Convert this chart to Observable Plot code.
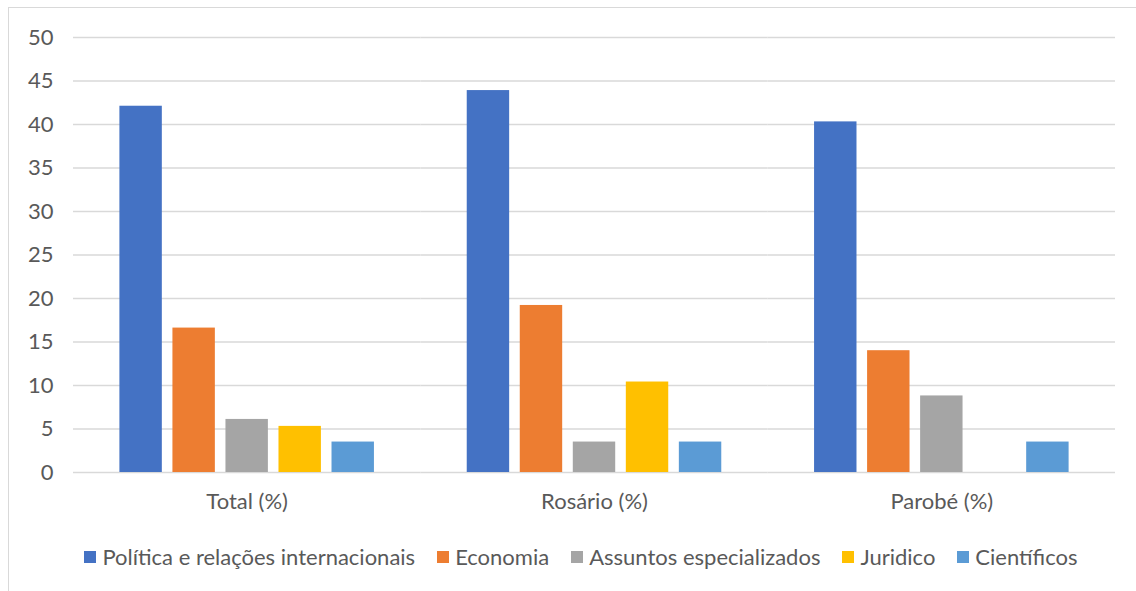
<!DOCTYPE html>
<html>
<head>
<meta charset="utf-8">
<script src="https://cdn.jsdelivr.net/npm/d3@7"></script>
<script src="https://cdn.jsdelivr.net/npm/@observablehq/plot@0.6"></script>
<style>
  html, body { margin: 0; padding: 0; background: #fff; }
  body { width: 1136px; height: 591px; position: relative; overflow: hidden; font-family: Lato, "Open Sans", sans-serif; }
  #frame { position: absolute; left: 8px; top: 7px; width: 1146px; height: 610px; border: 1.5px solid #d9d9d9; box-sizing: border-box; }
  #chart { position: absolute; left: 0; top: 0; }
  #legend { position: absolute; left: 8px; top: 545px; width: 1146px; display: flex; justify-content: center; align-items: center; color: #595959; font-size: 22px; line-height: 24px; }
  .item { display: flex; align-items: center; margin-right: 22px; }
  .item:last-child { margin-right: 0; }
  .sw { width: 12px; height: 12px; margin-right: 6px; display: inline-block; }
</style>
</head>
<body>
<div id="frame"></div>
<div id="chart"></div>
<div id="legend"></div>
<script>
const groups = ["Total (%)", "Rosário (%)", "Parobé (%)"];
const categories = ["Política e relações internacionais", "Economia", "Assuntos especializados", "Juridico", "Científicos"];
const politica = [42.1, 43.9, 40.3];
const economia = [16.6, 19.2, 14.0];
const assuntos = [6.1, 3.5, 8.8];
const juridico = [5.3, 10.4, 0];
const cientificos = [3.5, 3.5, 3.5];
const colors = ["#4472C4", "#ED7D31", "#A5A5A5", "#FFC000", "#5B9BD5"];
const yTicks = [0, 5, 10, 15, 20, 25, 30, 35, 40, 45, 50];

const series = [politica, economia, assuntos, juridico, cientificos];
const table = [];
groups.forEach((g, gi) => {
  categories.forEach((c, ci) => {
    table.push({group: g, cat: c, value: series[ci][gi]});
  });
});

const chart = Plot.plot({
  width: 1136,
  height: 520,
  marginLeft: 73,
  marginRight: 21,
  marginTop: 37,
  marginBottom: 48,
  style: {fontFamily: "Lato, 'Open Sans', sans-serif", fontSize: "22px", color: "#595959", background: "transparent"},
  fx: {domain: groups, padding: 0, round: false, label: null},
  x: {domain: categories, paddingInner: 0.2, paddingOuter: 0.875, round: false, axis: null},
  y: {domain: [0, 50]},
  color: {domain: categories, range: colors},
  marks: [
    Plot.ruleY(yTicks, {stroke: "#d9d9d9", strokeWidth: 1.5}),
    Plot.barY(table, {fx: "group", x: "cat", y: "value", fill: "cat"}),
    Plot.axisY({ticks: yTicks, tickSize: 0, tickPadding: 20, fontSize: 22, label: null, fill: "#595959"}),
    Plot.axisFx({anchor: "bottom", tickSize: 0, tickPadding: 21, fontSize: 22, label: null, fill: "#595959"})
  ]
});
document.getElementById("chart").appendChild(chart);

const legend = document.getElementById("legend");
categories.forEach((c, i) => {
  const it = document.createElement("div");
  it.className = "item";
  const sw = document.createElement("span");
  sw.className = "sw";
  sw.style.background = colors[i];
  const t = document.createElement("span");
  t.textContent = c;
  it.appendChild(sw);
  it.appendChild(t);
  legend.appendChild(it);
});
</script>
</body>
</html>
